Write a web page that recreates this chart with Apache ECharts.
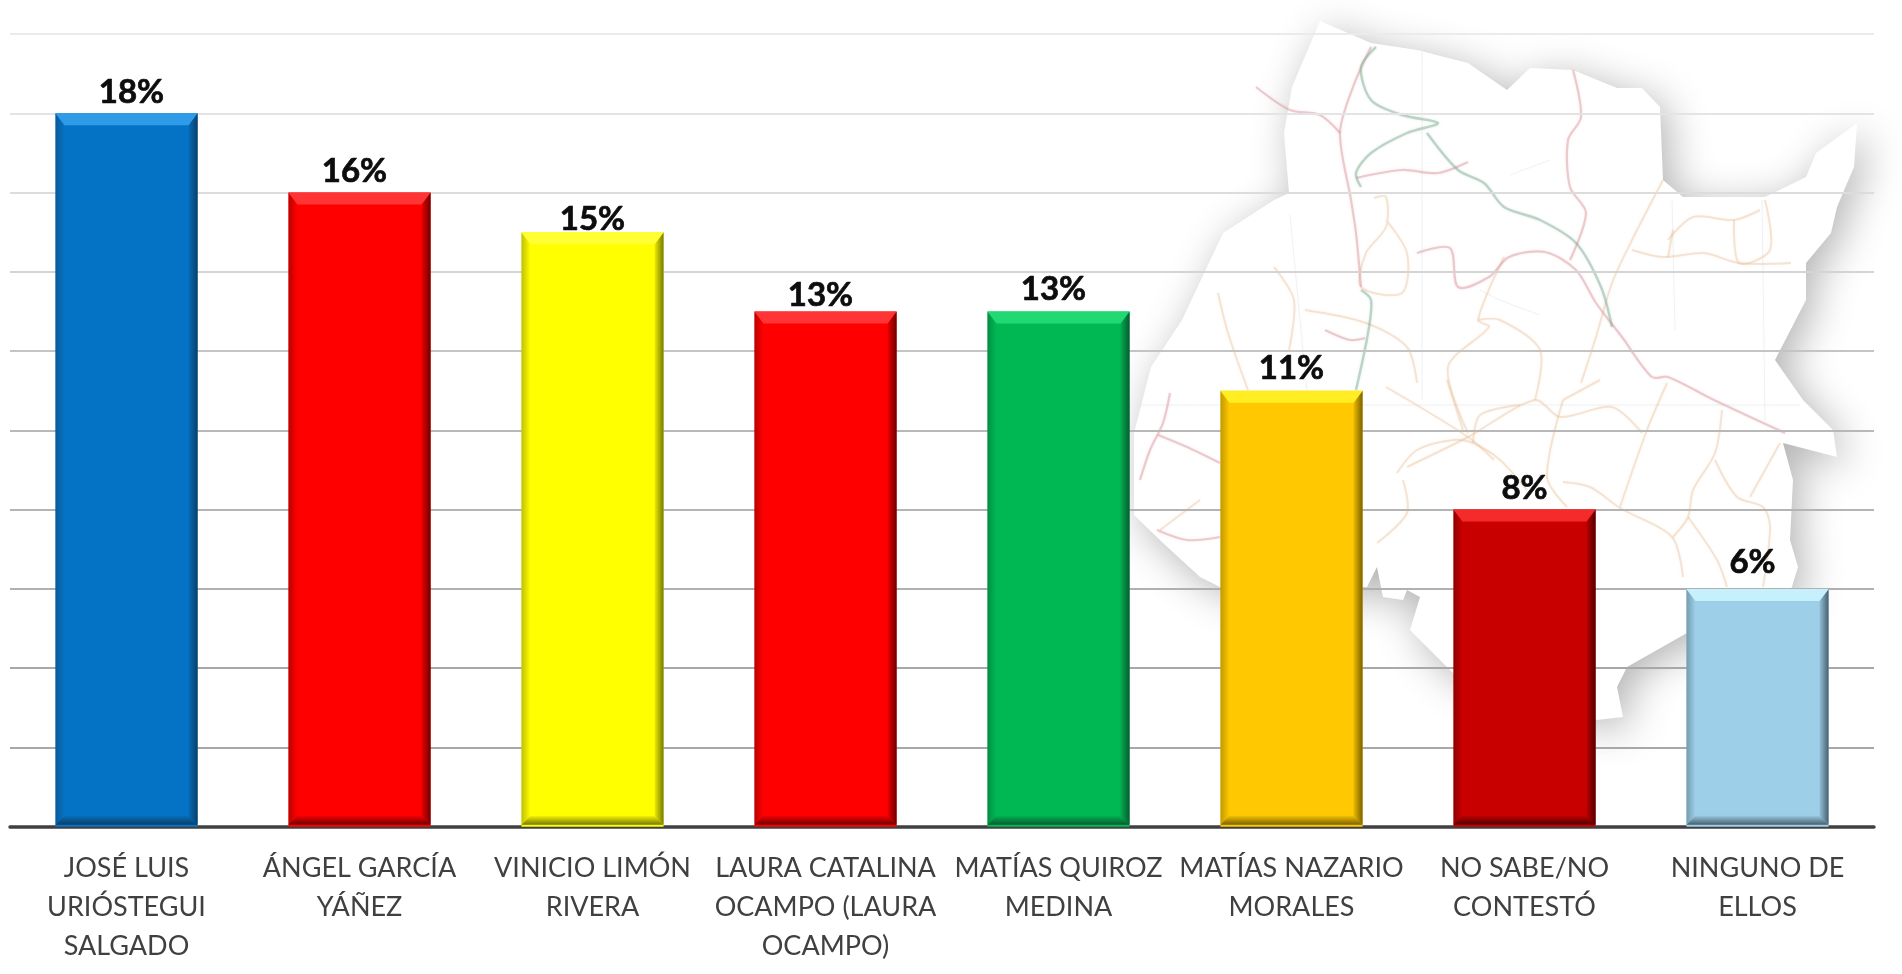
<!DOCTYPE html>
<html>
<head>
<meta charset="utf-8">
<title>Encuesta</title>
<script src="https://cdn.jsdelivr.net/npm/echarts@6/dist/echarts.min.js"></script>
<style>
    html, body { margin: 0; padding: 0; background: #fff; }
    #chart { width: 1902px; height: 974px; }
</style>
</head>
<body>
<div id="chart"></div>
<script>
const categories = [
    'JOSÉ LUIS\nURIÓSTEGUI\nSALGADO',
    'ÁNGEL GARCÍA\nYÁÑEZ',
    'VINICIO LIMÓN\nRIVERA',
    'LAURA CATALINA\nOCAMPO (LAURA\nOCAMPO)',
    'MATÍAS QUIROZ\nMEDINA',
    'MATÍAS NAZARIO\nMORALES',
    'NO SABE/NO\nCONTESTÓ',
    'NINGUNO DE\nELLOS'
];
const values = [18, 16, 15, 13, 13, 11, 8, 6];

const barColors = ['#0573c5', '#ff0000', '#ffff00', '#ff0000', '#00b853', '#ffc800', '#c80000', '#9dcfe8'];
const topColors = ['#2f9be8', '#ff3535', '#ffff33', '#ff3535', '#22d873', '#ffee22', '#f52a2a', '#c5f0fc'];
const sideColors = ['#0a3f68', '#6e0000', '#77770a', '#6e0000', '#085c30', '#7a6200', '#520000', '#47606e'];
const labelDistance = [4, 5, -4, 0, 6, 6, 5, 10];
const labelShift = [5, -5, 0, -5, -5, 0, 0, -5];
const gridColors = ['#a0a0a0', '#a8a8a8', '#a8a8a8', '#b0b0b0', '#b4b4b4', '#b8b8b8', '#c4c4c4', '#d4d4d4', '#dcdcdc', '#e4e4e4', '#ebebeb'];

// silueta del mapa de fondo, en pixeles de pantalla
const mapOutline = [
    [1320,21],[1371,43],[1417,50],[1468,63],[1507,90],[1530,68],[1573,70],[1617,88],[1642,88],[1660,107],
    [1663,180],[1683,197],[1765,197],[1806,177],[1816,153],[1857,123],[1854,167],[1837,207],[1831,233],[1806,263],
    [1806,300],[1775,360],[1803,400],[1833,430],[1837,457],[1783,443],[1793,480],[1790,540],[1798,567],[1790,593],
    [1687,633],[1627,667],[1617,687],[1623,717],[1597,720],[1453,673],[1437,657],[1410,630],[1420,597],[1407,590],
    [1403,600],[1383,597],[1377,567],[1367,587],[1220,587],[1200,577],[1163,543],[1134,515],[1134,433],[1151,367],
    [1182,320],[1223,233],[1274,200],[1289,193],[1284,133],[1292,87]
];
const roadsTan = [
    [[1374,198],[1386,197],[1386,227],[1366,253],[1361,287],[1402,293],[1407,253],[1386,220]],
    [[1663,180],[1632,240],[1612,283],[1596,337],[1581,383]],
    [[1632,250],[1663,257],[1704,253],[1739,263],[1791,263]],
    [[1668,240],[1693,217],[1734,220],[1760,210]],
    [[1734,220],[1739,263],[1770,250],[1765,200]],
    [[1668,257],[1673,230]],
    [[1504,257],[1478,320],[1489,327],[1448,367],[1468,433]],
    [[1218,293],[1228,333],[1248,390]],
    [[1274,267],[1294,300],[1289,350]],
    [[1305,310],[1366,323],[1407,347],[1417,383]],
    [[1386,387],[1468,437],[1494,460]],
    [[1407,467],[1468,437],[1535,400],[1560,417],[1612,407],[1642,433]],
    [[1667,383],[1647,430],[1620,507]],
    [[1563,482],[1590,487],[1620,508],[1672,537],[1683,577]],
    [[1722,410],[1715,453],[1693,490],[1688,517],[1673,537]],
    [[1715,460],[1737,497],[1763,507],[1770,527],[1763,587]],
    [[1780,443],[1750,497]],
    [[1688,517],[1717,560],[1727,587]],
    [[1397,473],[1417,450],[1453,440],[1473,443],[1500,460],[1527,490]],
    [[1403,480],[1407,513],[1377,543]],
    [[1563,400],[1547,477],[1567,507]],
    [[1447,380],[1463,430]],
    [[1200,500],[1160,530]],
    [[1535,400],[1540,350],[1500,320],[1478,320]],
    [[1600,380],[1563,400]],
    [[1473,443],[1480,415],[1520,405]]
];
const roadsPink = [
    [[1371,47],[1353,87],[1340,133],[1351,200],[1356,233],[1361,287]],
    [[1256,87],[1290,110],[1320,115],[1340,133]],
    [[1356,178],[1402,170],[1438,173],[1468,162]],
    [[1417,253],[1450,248],[1458,287],[1489,277],[1509,257],[1545,252],[1576,270],[1596,303],[1622,337],[1652,377],[1668,377],[1714,400],[1785,433]],
    [[1573,70],[1581,117],[1568,140],[1570,187],[1586,213],[1570,260]],
    [[1170,393],[1163,423],[1150,450],[1140,480]],
    [[1158,435],[1187,447],[1220,463]],
    [[1157,530],[1187,540],[1220,537]],
    [[1325,330],[1350,340],[1365,338]]
];
const roadsGreen = [
    [[1376,47],[1361,67],[1371,100],[1402,115],[1438,123],[1407,133],[1371,153],[1356,173],[1361,187]],
    [[1427,133],[1458,170],[1484,183],[1504,207],[1540,220],[1576,243],[1601,287],[1612,327]],
    [[1361,290],[1371,300],[1368,333],[1356,390]]
];
const roadsThin = [
    [[1422,52],[1422,400]],
    [[1672,200],[1675,330]],
    [[1762,200],[1765,420]],
    [[1290,215],[1300,320],[1310,420]],
    [[1140,405],[1800,405]],
    [[1550,160],[1510,175]],
    [[1480,290],[1500,300],[1540,315]]
];

let chart = echarts.init(document.getElementById('chart'));

function mapGraphics() {
    let items = [{
        type: 'polygon',
        z: -10,
        silent: true,
        shape: { points: mapOutline },
        style: { fill: '#fff', shadowBlur: 42, shadowColor: 'rgba(0,0,0,0.3)', shadowOffsetX: 8, shadowOffsetY: 8 }
    }];
    let addRoads = (roads, color, width) => {
        roads.forEach(points => {
            items.push({
                type: 'polyline',
                z: -9,
                silent: true,
                shape: { points: points, smooth: 0.3 },
                style: { fill: null, stroke: color, lineWidth: width, shadowBlur: 3, shadowColor: color }
            });
        });
    };
    addRoads(roadsThin, 'rgba(190,200,210,0.25)', 1);
    addRoads(roadsTan, 'rgba(232,190,150,0.38)', 2);
    addRoads(roadsPink, 'rgba(214,140,150,0.42)', 2.2);
    addRoads(roadsGreen, 'rgba(125,170,145,0.45)', 2.4);
    return items;
}

// biseles de cada barra, sobre la barra real
function renderBevel(params, api) {
    let i = api.value(0);
    let top = api.coord([i, api.value(1)]);
    let base = api.coord([i, 0]);
    let w = api.size([1, 0])[0] * 0.61;
    let l = top[0] - w / 2, r = top[0] + w / 2, t = top[1], b = base[1] - 2;
    let bt = 12, bs = 9, bb = 9;
    let poly = (points, fill) => ({ type: 'polygon', shape: { points: points }, style: { fill: fill } });
    let side = sideColors[i];
    return {
        type: 'group',
        silent: true,
        children: [
            poly([[l, t], [l + bs, t + bt], [l + bs, b - bb], [l, b]], new echarts.graphic.LinearGradient(0, 0, 1, 0, [
                { offset: 0, color: side + '77' }, { offset: 1, color: side + '00' }
            ])),
            poly([[r, t], [r - bs, t + bt], [r - bs, b - bb], [r, b]], new echarts.graphic.LinearGradient(0, 0, 1, 0, [
                { offset: 0, color: side + '22' }, { offset: 1, color: side }
            ])),
            poly([[l, b], [l + bs, b - bb], [r - bs, b - bb], [r, b]], new echarts.graphic.LinearGradient(0, 0, 0, 1, [
                { offset: 0, color: side + '11' }, { offset: 1, color: side }
            ])),
            poly([[l, t], [r, t], [r - bs, t + bt], [l + bs, t + bt]], topColors[i])
        ]
    };
}

let option = {
    animation: false,
    backgroundColor: '#fff',
    textStyle: { fontFamily: 'Lato' },
    graphic: { elements: mapGraphics() },
    grid: { left: 10, right: 28, top: 34, bottom: 147.3 },
    xAxis: {
        type: 'category',
        data: categories,
        axisTick: { show: false },
        axisLine: { lineStyle: { color: '#404040', width: 3.5 } },
        axisLabel: {
            interval: 0,
            margin: 22,
            fontFamily: 'Lato',
            fontSize: 27,
            lineHeight: 39,
            color: '#404040'
        }
    },
    yAxis: {
        type: 'value',
        min: 0,
        max: 20,
        interval: 2,
        axisLabel: { show: false },
        axisLine: { show: false },
        axisTick: { show: false },
        splitLine: { lineStyle: { color: gridColors, width: 2 } }
    },
    series: [
        {
            type: 'bar',
            barWidth: '61%',
            z: 2,
            data: values.map((v, i) => ({
                value: v,
                itemStyle: { color: barColors[i] },
                label: { distance: labelDistance[i], offset: [labelShift[i], 0] }
            })),
            label: {
                show: true,
                position: 'top',
                formatter: '{c}%',
                fontFamily: 'Lato',
                fontWeight: 'bold',
                fontSize: 33,
                color: '#0d0d0d',
                textBorderColor: '#0d0d0d',
                textBorderWidth: 0.7
            }
        },
        {
            type: 'custom',
            z: 3,
            silent: true,
            renderItem: renderBevel,
            encode: { x: 0, y: 1 },
            data: values.map((v, i) => [i, v])
        }
    ]
};

chart.setOption(option);
</script>
</body>
</html>
